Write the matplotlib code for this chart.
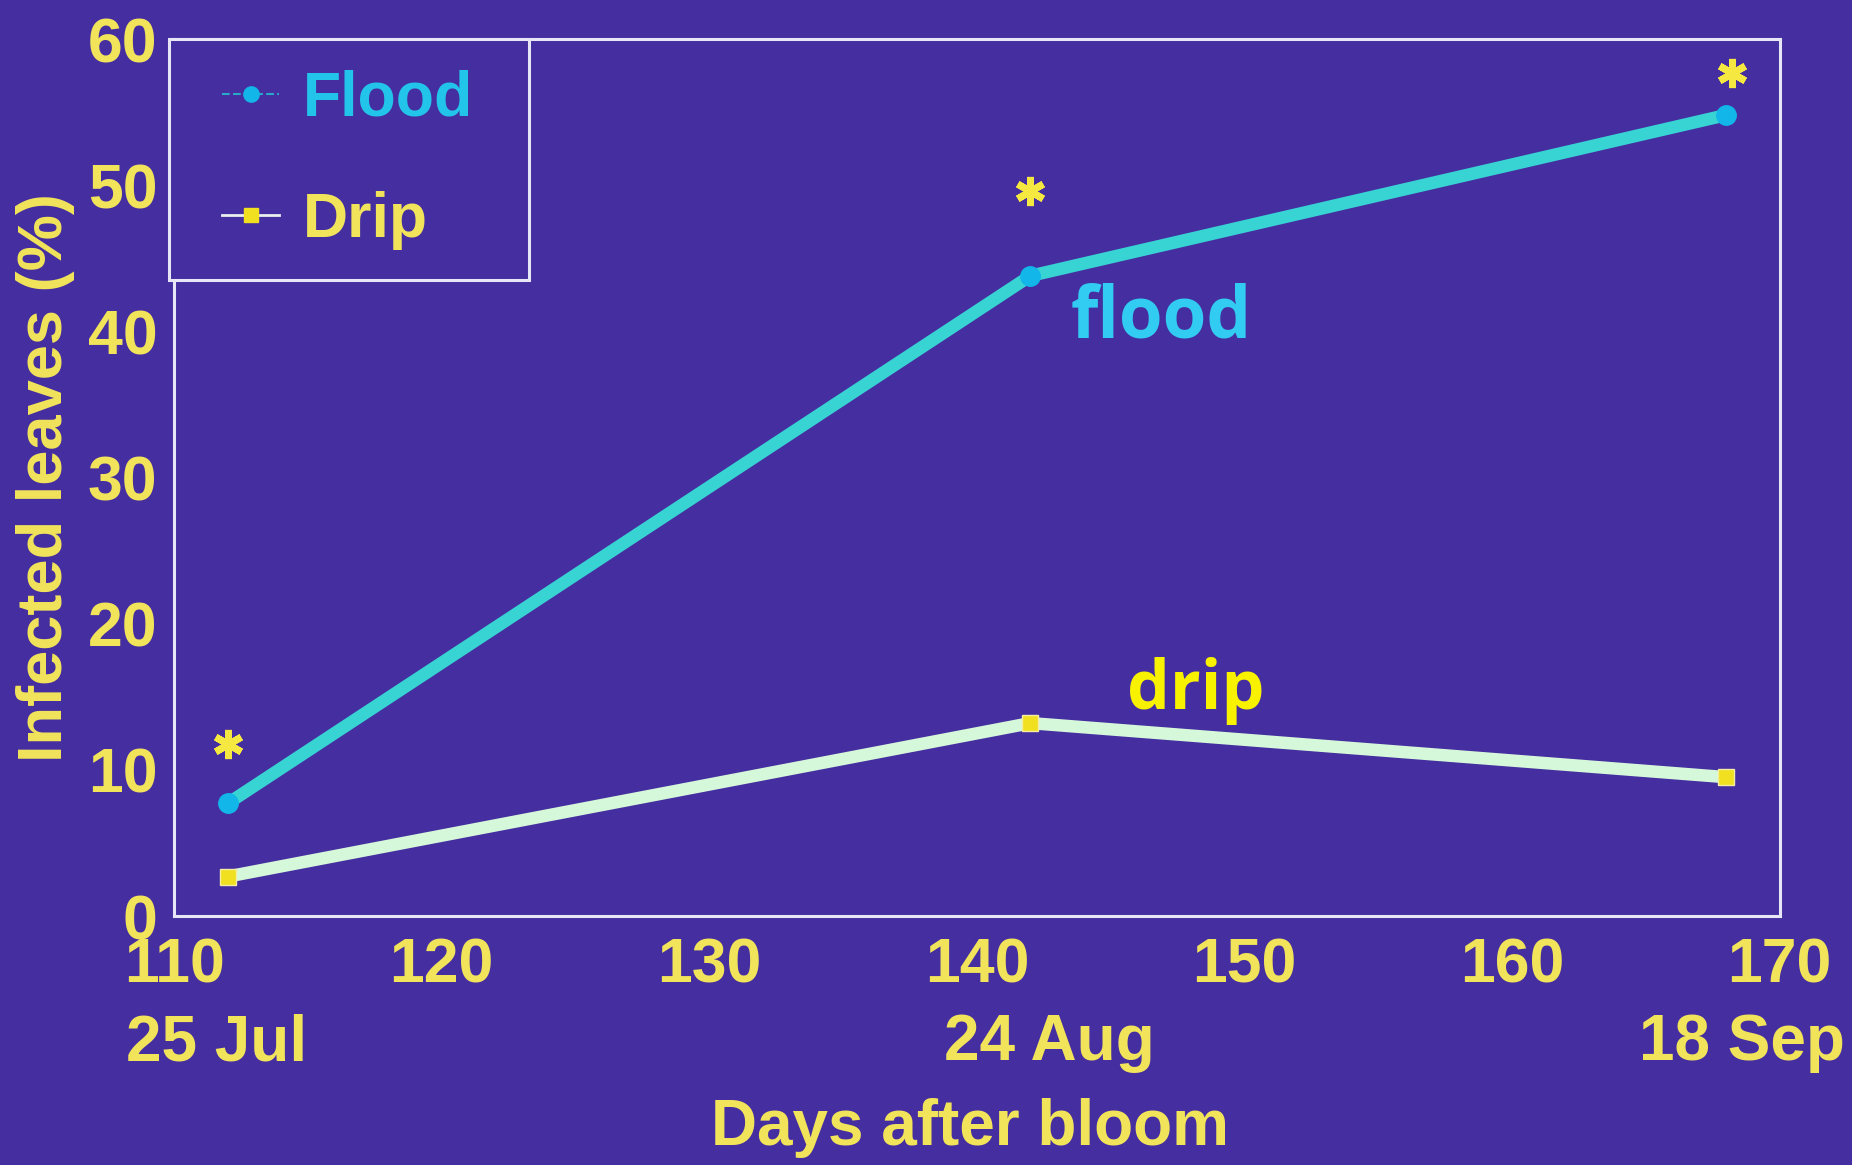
import numpy as np
import matplotlib
matplotlib.use('Agg')
import matplotlib.pyplot as plt
from matplotlib.lines import Line2D
from matplotlib.patches import Rectangle
from matplotlib.transforms import blended_transform_factory

# values
days = [112, 142, 168]
flood = [7.7, 43.8, 54.8]
drip = [2.7, 13.2, 9.5]
dates = ['25 Jul', '24 Aug', '18 Sep']
sig_x = [112, 142, 168.2]
sig_y = [11.8, 49.6, 57.7]
xticks = [110, 120, 130, 140, 150, 160, 170]
yticks = [0, 10, 20, 30, 40, 50, 60]

bg = '#452ea0'
yellow = '#f2e45a'
spine_col = '#e6e6f6'

plt.rcParams['font.family'] = ['Liberation Sans', 'DejaVu Sans']
plt.rcParams['font.weight'] = 'bold'

fig = plt.figure(figsize=(18.52, 11.65), dpi=100, facecolor=bg)
ax = fig.add_axes([0.094, 0.2137, 0.867, 0.7528], facecolor=bg)

ax.plot(days, flood, color='#38d4d4', lw=9, solid_capstyle='butt', zorder=3)
ax.plot(days, flood, 'o', color='#12b6e8', ms=14, zorder=4)
ax.plot(days, drip, color='#d6f8da', lw=9, solid_capstyle='butt', zorder=3)
ax.plot(days, drip, 's', color='#f0e020', mec='#f4eea0', mew=1, ms=12, zorder=4)
ax.plot(sig_x, sig_y, ls='none', marker=(6, 2, 0), color='#f5e840',
        mec='#f5e840', ms=21, mew=5, zorder=4)

ax.text(143.5, 40.9, 'flood', color='#32cbf2', fontsize=51,
        family=['Open Sans', 'DejaVu Sans'], fontweight='bold', va='center', ha='left')
ax.text(145.6, 15.4, 'drip', color='#f8f200', fontsize=49,
        family=['Open Sans', 'DejaVu Sans'], fontweight='bold', va='center', ha='left')

ax.set_xlim(110, 170)
ax.set_ylim(0, 60)
ax.set_xticks(xticks)
ax.set_yticks(yticks)
ax.tick_params(axis='both', length=0, labelsize=45, labelcolor=yellow)
ax.tick_params(axis='x', pad=15)
ax.tick_params(axis='y', pad=12)
for s in ax.spines.values():
    s.set_color(spine_col)
    s.set_linewidth(2.2)

trans = blended_transform_factory(ax.transData, ax.transAxes)
date_x = [111.6, 142.7, 168.6]
for dx, lab in zip(date_x, dates):
    ax.text(dx, -0.145, lab, transform=trans, ha='center', va='center',
            fontsize=46, color=yellow, fontweight='bold')

fig.text(0.524, 0.032, 'Days after bloom', ha='center', va='center',
         fontsize=46, color=yellow, fontweight='bold')
fig.text(0.0243, 0.590, 'Infected leaves (%)', ha='center', va='center',
         rotation=90, fontsize=45.5, color=yellow, fontweight='bold')

# legend box drawn by hand so its size matches the slide
ax.add_patch(Rectangle((-0.003, 0.725), 0.224, 0.275, transform=ax.transAxes,
                       facecolor=bg, edgecolor=spine_col, lw=2.2,
                       clip_on=False, zorder=5))
handles = [
    Line2D([], [], color='#2aa8c8', lw=1.5, ls='--', marker='o', ms=11,
           mfc='#12b6e8', mec='#12b6e8'),
    Line2D([], [], color='#e8f0f0', lw=2, marker='s', ms=10,
           mfc='#f0e020', mec='#f0e020'),
]
leg = ax.legend(handles, ['Flood', 'Drip'], loc='upper left',
                bbox_to_anchor=(-0.001, 1.022), borderaxespad=0, fontsize=45,
                frameon=False, handlelength=0.9,
                handletextpad=0.38, labelspacing=1.0, borderpad=0.8)
leg.set_zorder(6)
leg.get_texts()[0].set_color('#22c4ea')
leg.get_texts()[1].set_color(yellow)
for t in leg.get_texts():
    t.set_fontweight('bold')

fig.savefig('out.png', dpi=100, facecolor=bg)
